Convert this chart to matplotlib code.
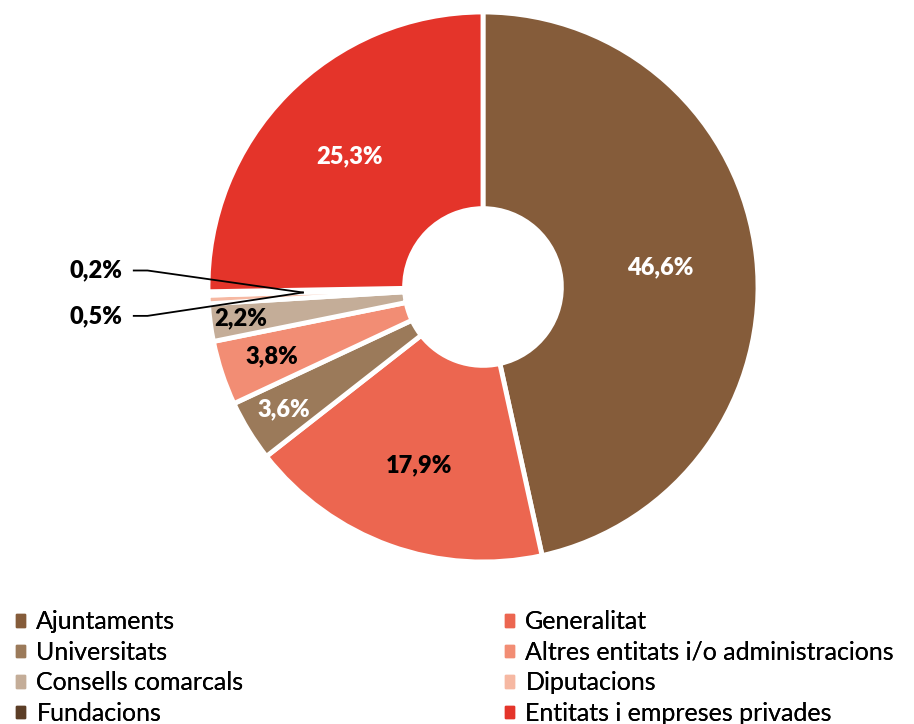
import matplotlib.pyplot as plt
import numpy as np
from matplotlib.patches import Rectangle

categories = [
    "Ajuntaments",
    "Generalitat",
    "Universitats",
    "Altres entitats i/o administracions",
    "Consells comarcals",
    "Diputacions",
    "Fundacions",
    "Entitats i empreses privades",
]
shares = [46.6, 17.9, 3.6, 3.8, 2.2, 0.5, 0.2, 25.3]
labels = ["46,6%", "17,9%", "3,6%", "3,8%", "2,2%", "0,5%", "0,2%", "25,3%"]
colors = ["#855c3a", "#ec6650", "#9b7a5a", "#f28d74", "#c4ad98", "#f6b8a2", "#5b3d26", "#e4342a"]
label_colors = ["white", "black", "white", "black", "black", "black", "black", "white"]
label_radius = [0.65, 0.69, 0.85, 0.81, 0.89, None, None, 0.68]
left_col = [0, 2, 4, 6]
right_col = [1, 3, 5, 7]

plt.rcParams["font.family"] = ["Lato", "DejaVu Sans"]

W, H = 914, 724
fig = plt.figure(figsize=(W / 100, H / 100), dpi=100)
cx, cy, R = 483, 287, 275
ax = fig.add_axes([(cx - R) / W, (H - cy - R) / H, 2 * R / W, 2 * R / H])

wedges, _ = ax.pie(
    shares,
    colors=colors,
    startangle=90,
    counterclock=False,
    radius=1,
    wedgeprops=dict(width=0.715, edgecolor="white", linewidth=3.5),
)
ax.set_xlim(-1, 1)
ax.set_ylim(-1, 1)
ax.set_aspect("equal")
ax.axis("off")

total = sum(shares)
start = 90.0
for i, value in enumerate(shares):
    sweep = 360 * value / total
    mid = np.deg2rad(start - sweep / 2)
    start -= sweep
    r = label_radius[i]
    if r is None:
        continue
    ax.text(r * np.cos(mid), r * np.sin(mid), labels[i], ha="center", va="center",
            fontsize=17, fontweight="heavy", color=label_colors[i])

# leader lines for the two smallest slices
tip = (-0.655, -0.02)
for lbl, y in (("0,2%", 0.06), ("0,5%", -0.105)):
    ax.plot([-1.27, -1.22, tip[0]], [y, y, tip[1]], color="black", lw=1.3, clip_on=False)
    ax.text(-1.31, y, lbl, ha="right", va="center", fontsize=17, fontweight="heavy", color="black")

legend_kw = dict(
    loc="upper left", frameon=False, fontsize=18, handlelength=0.38, handleheight=0.38,
    handletextpad=0.45, labelspacing=0.3, borderaxespad=0, borderpad=0,
)
for col, x0 in ((left_col, 0.017), (right_col, 0.552)):
    handles = [Rectangle((0, 0), 1, 1, color=colors[i]) for i in col]
    leg = fig.legend(handles, [categories[i] for i in col], bbox_to_anchor=(x0, 0.157), **legend_kw)
    fig.add_artist(leg)

fig.savefig("out.png", dpi=100, facecolor="white")
